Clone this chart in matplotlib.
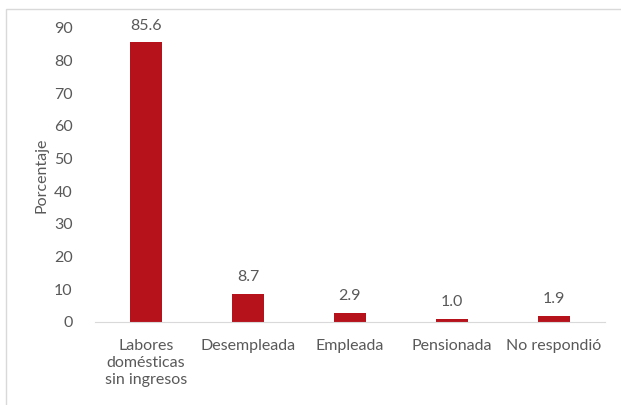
import matplotlib.pyplot as plt
from matplotlib.patches import Rectangle

# --- Datos ---
categorias = ['Labores\ndomésticas\nsin ingresos', 'Desempleada', 'Empleada',
              'Pensionada', 'No respondió']
porcentajes = [85.6, 8.7, 2.9, 1.0, 1.9]
etiquetas = ['85.6', '8.7', '2.9', '1.0', '1.9']
ticks_y = [0, 10, 20, 30, 40, 50, 60, 70, 80, 90]

gris = '#595959'
rojo = '#B5121B'
plt.rcParams['font.family'] = ['Lato', 'DejaVu Sans']
tam = 11.5

fig = plt.figure(figsize=(6.21, 4.05), dpi=100)
ax = fig.add_axes([0.153, 0.205, 0.821, 0.726])

# marco exterior del grafico
fig.patches.append(Rectangle((6 / 621, -0.1), 1.2, 1 - 9 / 405 + 0.1,
                             transform=fig.transFigure, fill=False,
                             edgecolor='#D9D9D9', linewidth=1))

x = range(len(categorias))
barras = ax.bar(x, porcentajes, width=0.31, color=rojo)

for b, txt in zip(barras, etiquetas):
    ax.annotate(txt, (b.get_x() + b.get_width() / 2, b.get_height()),
                xytext=(0, 7), textcoords='offset points',
                ha='center', va='bottom', fontsize=tam, color=gris)

ax.set_xlim(-0.5, len(categorias) - 0.5)
ax.set_ylim(0, 90)
ax.set_yticks(ticks_y)
ax.set_xticks(list(x))
ax.set_xticklabels(categorias, fontsize=tam, color=gris, linespacing=1.3)
ax.tick_params(axis='y', labelsize=tam, labelcolor=gris, length=0, pad=16)
ax.tick_params(axis='x', length=0, pad=12)
ax.set_ylabel('Porcentaje', fontsize=tam, color=gris, labelpad=4)

for lado in ['top', 'right', 'left']:
    ax.spines[lado].set_visible(False)
ax.spines['bottom'].set_color('#D9D9D9')

fig.savefig('out.png', dpi=100)
